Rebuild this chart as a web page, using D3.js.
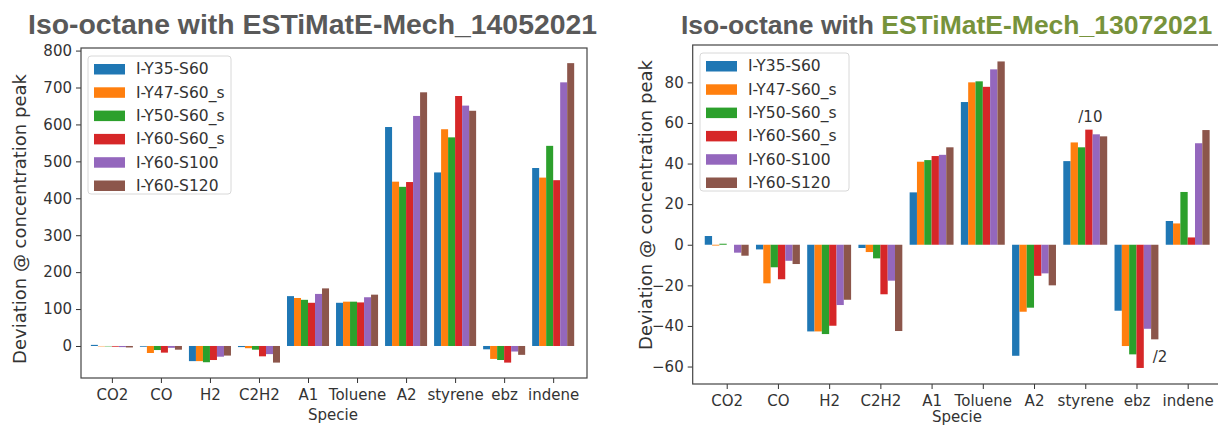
<!DOCTYPE html>
<html>
<head>
<meta charset="utf-8">
<script src="https://cdn.jsdelivr.net/npm/d3@7"></script>
<style>
  body { margin: 0; background: #fff; }
  svg { display: block; }
  .tick text { font-family: "DejaVu Sans", sans-serif; font-size: 15px; fill: #333; }
  .tick line { stroke: #333; }
  .domain { display: none; }
</style>
</head>
<body>
<script>
// species on the x axis
var species = ["CO2", "CO", "H2", "C2H2", "A1", "Toluene", "A2", "styrene", "ebz", "indene"];
// cases (one bar per case in each group)
var cases = ["I-Y35-S60", "I-Y47-S60_s", "I-Y50-S60_s", "I-Y60-S60_s", "I-Y60-S100", "I-Y60-S120"];
var colors = ["#1f77b4", "#ff7f0e", "#2ca02c", "#d62728", "#9467bd", "#8c564b"];

// left: ESTiMatE-Mech_14052021
var oldY35 = [3, -2, -41, -3, 135, 117, 593, 470, -9, 482];
var oldY47 = [-1, -19, -41, -6, 130, 120, 445, 587, -35, 456];
var oldY50 = [-1, -11, -44, -10, 125, 120, 431, 565, -38, 542];
var oldY60 = [-2, -18, -38, -28, 117, 118, 444, 677, -45, 449];
var oldS100 = [-3, -5, -29, -22, 141, 132, 623, 651, -15, 714];
var oldS120 = [-4, -10, -26, -45, 156, 139, 687, 637, -24, 766];
var oldTicks = [0, 100, 200, 300, 400, 500, 600, 700, 800];

// right: ESTiMatE-Mech_13072021 (styrene /10, ebz /2)
var newY35 = [4.3, -2.3, -42.7, -1.6, 25.8, 70.3, -54.7, 41.2, -32.5, 11.7];
var newY47 = [-0.4, -19, -42.7, -3.6, 40.9, 80, -33, 50.4, -49.9, 10.5];
var newY50 = [0.5, -11.1, -44, -6.7, 41.7, 80.5, -31, 48, -54, 26];
var newY60 = [0, -17, -39.9, -24.4, 43.7, 77.8, -15.3, 56.7, -60.7, 3.6];
var newS100 = [-3.9, -7.9, -29.7, -17.7, 44.3, 86.4, -14.1, 54.4, -41.4, 50];
var newS120 = [-5.4, -9.5, -27.1, -42.5, 48, 90.3, -20, 53.4, -46.6, 56.5];
var newTicks = [-60, -40, -20, 0, 20, 40, 60, 80];
var newNotes = [{x: 7.1, y: 63, text: "/10"}, {x: 8.46, y: -55.3, text: "/2"}];

var svg = d3.select("body").append("svg")
  .attr("width", 1218)
  .attr("height", 427);

function drawChart(opt) {
  var x = d3.scaleLinear().domain(opt.xDomain).range([opt.left, opt.right]);
  var y = d3.scaleLinear().domain(opt.yDomain).range([opt.bottom, opt.top]);
  var g = svg.append("g");
  var bw = 1 / 7;

  // bars
  opt.series.forEach(function (vals, i) {
    g.selectAll(null)
      .data(vals)
      .enter().append("rect")
      .attr("x", function (d, j) { return x(j + (i - 3) * bw); })
      .attr("width", x(bw) - x(0))
      .attr("y", function (d) { return y(Math.max(0, d)); })
      .attr("height", function (d) { return Math.abs(y(d) - y(0)); })
      .attr("fill", colors[i]);
  });

  // axes
  g.append("g")
    .attr("transform", "translate(0," + opt.bottom + ")")
    .call(d3.axisBottom(x).tickValues(d3.range(species.length))
      .tickFormat(function (d) { return species[d]; }).tickSize(5).tickPadding(6));
  g.append("g")
    .attr("transform", "translate(" + opt.left + ",0)")
    .call(d3.axisLeft(y).tickValues(opt.ticks)
      .tickFormat(function (d) { return d < 0 ? "\u2212" + Math.abs(d) : d; }).tickSize(5).tickPadding(4));

  // frame
  g.append("rect")
    .attr("x", opt.left).attr("y", opt.top)
    .attr("width", opt.right - opt.left).attr("height", opt.bottom - opt.top)
    .attr("fill", "none").attr("stroke", "#444").attr("stroke-width", 1.2);

  // labels
  g.append("text")
    .attr("transform", "translate(" + opt.ylabelX + "," + opt.ylabelY + ") rotate(-90)")
    .attr("text-anchor", "middle")
    .attr("dy", "0.35em")
    .style("font-family", "DejaVu Sans").style("font-size", "18px").style("fill", "#333")
    .text("Deviation @ concentration peak");
  g.append("text")
    .attr("x", opt.xlabelX).attr("y", opt.xlabelY)
    .attr("text-anchor", "middle")
    .style("font-family", "DejaVu Sans").style("font-size", "15px").style("fill", "#333")
    .text("Specie");

  // legend
  var lg = g.append("g").attr("transform", "translate(" + opt.legend[0] + "," + opt.legend[1] + ")");
  lg.append("rect")
    .attr("width", opt.legend[2]).attr("height", 138)
    .attr("rx", 3)
    .attr("fill", "#fff").attr("fill-opacity", 0.8)
    .attr("stroke", "#d8d8d8");
  cases.forEach(function (c, i) {
    lg.append("rect")
      .attr("x", 6).attr("y", 8 + i * 23.3)
      .attr("width", 31).attr("height", 10.5)
      .attr("fill", colors[i]);
    lg.append("text")
      .attr("x", 48).attr("y", 13 + i * 23.3)
      .attr("dy", "0.35em")
      .style("font-family", "DejaVu Sans").style("font-size", "15.5px").style("fill", "#333")
      .text(c);
  });

  // notes
  (opt.notes || []).forEach(function (n) {
    g.append("text")
      .attr("x", x(n.x)).attr("y", y(n.y))
      .attr("text-anchor", "middle").attr("dy", "0.35em")
      .style("font-family", "DejaVu Sans").style("font-size", "15px").style("fill", "#333")
      .text(n.text);
  });

  // title
  var t = svg.append("text")
    .attr("x", opt.titleX).attr("y", 34)
    .style("font-family", "Liberation Sans, Arial, sans-serif")
    .style("font-weight", "bold").style("font-size", opt.titleSize + "px")
    .style("fill", "#595959");
  t.append("tspan").text("Iso-octane with ");
  t.append("tspan").style("fill", opt.titleColor).text(opt.titleMech);
}

drawChart({
  series: [oldY35, oldY47, oldY50, oldY60, oldS100, oldS120],
  xDomain: [-0.63, 9.69], left: 81, right: 587,
  yDomain: [-86.7, 807], top: 48, bottom: 378,
  ticks: oldTicks,
  ylabelX: 20, ylabelY: 219, xlabelX: 333, xlabelY: 420,
  legend: [88, 56, 143],
  titleX: 28, titleSize: 28.4, titleMech: "ESTiMatE-Mech_14052021", titleColor: "#595959"
});

drawChart({
  series: [newY35, newY47, newY50, newY60, newS100, newS120],
  xDomain: [-0.664, 9.664], left: 692.7, right: 1221.7,
  yDomain: [-68.6, 98.4], top: 45, bottom: 384,
  ticks: newTicks,
  ylabelX: 646, ylabelY: 205, xlabelX: 957, xlabelY: 422,
  legend: [700, 53, 149],
  notes: newNotes,
  titleX: 681, titleSize: 26.5, titleMech: "ESTiMatE-Mech_13072021", titleColor: "#77933c"
});
</script>
</body>
</html>
